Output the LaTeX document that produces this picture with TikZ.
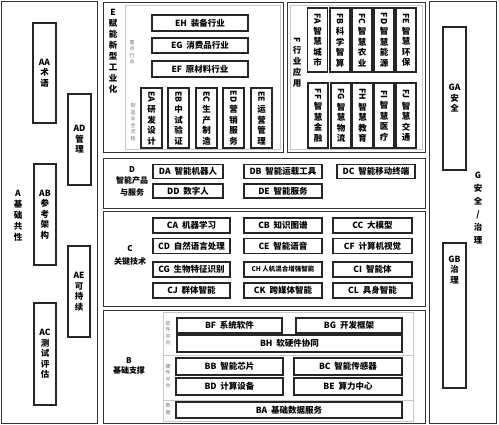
\documentclass[tikz,border=0pt]{standalone}
\usepackage{fontspec}
\newfontfamily\cjkfont{Noto Sans CJK SC}
\usepackage{tikz}
\usetikzlibrary{calc}

\begin{document}
\begin{tikzpicture}[x=1pt, y=-1pt,
        frame_style/.style={rectangle,draw=black!80,line width=0.9pt,inner sep=0pt},
        zone_style/.style={rectangle,draw=black!22,line width=0.5pt,inner sep=0pt},
        box_style/.style={rectangle,draw=black!85,line width=1.2pt,fill=white,inner sep=0pt,font=\cjkfont\bfseries\fontsize{8.5}{9}\selectfont},
        vbox_style/.style={box_style,align=center,font=\cjkfont\bfseries\fontsize{8.5}{10.5}\selectfont},
        title_style/.style={align=center,inner sep=0pt,font=\cjkfont\bfseries\fontsize{8.5}{11}\selectfont},
        tag_style/.style={align=center,inner sep=0pt,text=black!55,font=\cjkfont\fontsize{5}{6.5}\selectfont}]

        \useasboundingbox (0,0) rectangle (499,424);

        % frames
        \node [frame_style,minimum width=96pt,minimum height=422pt] (nA) at (49,212) {};
        \node [frame_style,minimum width=180pt,minimum height=150pt] (nE) at (193,77) {};
        \node [frame_style,minimum width=138pt,minimum height=150pt] (nF) at (356,77) {};
        \node [frame_style,minimum width=322pt,minimum height=50pt] (nD) at (264,183) {};
        \node [frame_style,minimum width=322pt,minimum height=95pt] (nC) at (264,258.5) {};
        \node [frame_style,minimum width=322pt,minimum height=113pt] (nB) at (264,366.5) {};
        \node [frame_style,minimum width=67pt,minimum height=422pt] (nG) at (462.5,212) {};

        \node [zone_style,minimum width=155pt,minimum height=144pt] (zE) at (202.5,77) {};
        \node [zone_style,minimum width=132pt,minimum height=144pt] (zF) at (356,77) {};
        \node [zone_style,minimum width=250pt,minimum height=43pt] (zB1) at (288,333.5) {};
        \node [zone_style,minimum width=250pt,minimum height=45pt] (zB2) at (288,377.5) {};
        \node [zone_style,minimum width=250pt,minimum height=21pt] (zB3) at (288,410.5) {};

        % titles
        \node [title_style] (tA) at (18,216) {A\\基\\础\\共\\性};
        \node [title_style] (tE) at (113,51) {E\\赋\\能\\新\\型\\工\\业\\化};
        \node [title_style] (tF) at (297,62) {\raisebox{\depth}{\rotatebox{-90}{F}}\\行\\业\\应\\用};
        \node [title_style,font=\cjkfont\bfseries\fontsize{8.5}{13}\selectfont] (tG) at (478,208) {G\\安\\全\\/\\治\\理};
        \node [title_style,font=\cjkfont\bfseries\fontsize{8}{11.5}\selectfont] (tD) at (132,181) {D\\智能产品\\与服务};
        \node [title_style,font=\cjkfont\bfseries\fontsize{8}{13}\selectfont] (tC) at (130,255) {C\\关键技术};
        \node [title_style,font=\cjkfont\bfseries\fontsize{8}{10}\selectfont] (tB) at (129,366) {B\\基础支撑};

        \node [tag_style] (gE1) at (132,52) {重\\点\\行\\业};
        \node [tag_style] (gE2) at (133,122) {制\\造\\业\\全\\流\\程};
        \node [tag_style] (gB1) at (168,333) {软\\件\\平\\台};
        \node [tag_style] (gB2) at (168,376) {硬\\件\\平\\台};
        \node [tag_style] (gB3) at (168,409) {数\\据};

        % A
        \node [vbox_style,minimum width=23pt,minimum height=100pt] (nAA) at (44.5,73) {AA\\术\\语};
        \node [vbox_style,minimum width=23pt,minimum height=91pt] (nAD) at (79.5,139.5) {AD\\管\\理};
        \node [vbox_style,minimum width=22pt,minimum height=101pt] (nAB) at (45,214.5) {AB\\参\\考\\架\\构};
        \node [vbox_style,minimum width=22pt,minimum height=91pt] (nAE) at (79,291.5) {AE\\可\\持\\续};
        \node [vbox_style,minimum width=22pt,minimum height=102pt] (nAC) at (45,354) {AC\\测\\试\\评\\估};

        % E
        \node [box_style,minimum width=96pt,minimum height=16pt] (nEH) at (200,23) {EH\ \ 装备行业};
        \node [box_style,minimum width=96pt,minimum height=15pt] (nEG) at (200,45.5) {EG\ \ 消费品行业};
        \node [box_style,minimum width=96pt,minimum height=16pt] (nEF) at (200,69) {EF\ \ 原材料行业};
        \node [vbox_style,minimum width=21pt,minimum height=60pt] (nEA) at (151.5,118) {\raisebox{\depth}{\rotatebox{-90}{EA}}\\研\\发\\设\\计};
        \node [vbox_style,minimum width=21pt,minimum height=60pt] (nEB) at (178.5,118) {\raisebox{\depth}{\rotatebox{-90}{EB}}\\中\\试\\验\\证};
        \node [vbox_style,minimum width=21pt,minimum height=60pt] (nEC) at (206.5,118) {\raisebox{\depth}{\rotatebox{-90}{EC}}\\生\\产\\制\\造};
        \node [vbox_style,minimum width=21pt,minimum height=60pt] (nED) at (233.5,118) {\raisebox{\depth}{\rotatebox{-90}{ED}}\\营\\销\\服\\务};
        \node [vbox_style,minimum width=21pt,minimum height=60pt] (nEE) at (261.5,118) {\raisebox{\depth}{\rotatebox{-90}{EE}}\\运\\营\\管\\理};

        % F
        \node [vbox_style,minimum width=20pt,minimum height=64pt] (nFA) at (317.5,40) {\raisebox{\depth}{\rotatebox{-90}{FA}}\\智\\慧\\城\\市};
        \node [vbox_style,minimum width=20pt,minimum height=64pt] (nFB) at (340,40) {\raisebox{\depth}{\rotatebox{-90}{FB}}\\科\\学\\智\\算};
        \node [vbox_style,minimum width=20pt,minimum height=64pt] (nFC) at (362,40) {\raisebox{\depth}{\rotatebox{-90}{FC}}\\智\\慧\\农\\业};
        \node [vbox_style,minimum width=20pt,minimum height=64pt] (nFD) at (384,40) {\raisebox{\depth}{\rotatebox{-90}{FD}}\\智\\慧\\能\\源};
        \node [vbox_style,minimum width=20pt,minimum height=64pt] (nFE) at (406,40) {\raisebox{\depth}{\rotatebox{-90}{FE}}\\智\\慧\\环\\保};
        \node [vbox_style,minimum width=20pt,minimum height=65pt] (nFF) at (318,115.5) {\raisebox{\depth}{\rotatebox{-90}{FF}}\\智\\慧\\金\\融};
        \node [vbox_style,minimum width=20pt,minimum height=65pt] (nFG) at (341,115.5) {\raisebox{\depth}{\rotatebox{-90}{FG}}\\智\\慧\\物\\流};
        \node [vbox_style,minimum width=20pt,minimum height=65pt] (nFH) at (362.5,115.5) {\raisebox{\depth}{\rotatebox{-90}{FH}}\\智\\慧\\教\\育};
        \node [vbox_style,minimum width=20pt,minimum height=65pt] (nFI) at (384,115.5) {\raisebox{\depth}{\rotatebox{-90}{FI}}\\智\\慧\\医\\疗};
        \node [vbox_style,minimum width=20pt,minimum height=65pt] (nFJ) at (406,115.5) {\raisebox{\depth}{\rotatebox{-90}{FJ}}\\智\\慧\\交\\通};

        % D
        \node [box_style,minimum width=70pt,minimum height=14pt] (nDA) at (188,171.5) {DA\ \ 智能机器人};
        \node [box_style,minimum width=78pt,minimum height=14pt] (nDB) at (283,171.5) {DB\ \ 智能运载工具};
        \node [box_style,minimum width=78pt,minimum height=14pt] (nDC) at (376,171.5) {DC\ \ 智能移动终端};
        \node [box_style,minimum width=70pt,minimum height=14pt] (nDD) at (188,191) {DD\ \ 数字人};
        \node [box_style,minimum width=78pt,minimum height=14pt] (nDE) at (283,191) {DE\ \ 智能服务};

        % C
        \node [box_style,minimum width=77pt,minimum height=15pt] (nCA) at (191.5,225.5) {CA\ \ 机器学习};
        \node [box_style,minimum width=78pt,minimum height=15pt] (nCB) at (283,225.5) {CB\ \ 知识图谱};
        \node [box_style,minimum width=79pt,minimum height=15pt] (nCC) at (372.5,225.5) {CC\ \ 大模型};
        \node [box_style,minimum width=77pt,minimum height=15pt] (nCD) at (191.5,246) {CD\ \ 自然语言处理};
        \node [box_style,minimum width=78pt,minimum height=15pt] (nCE) at (283,246) {CE\ \ 智能语音};
        \node [box_style,minimum width=79pt,minimum height=15pt] (nCF) at (372.5,246) {CF\ \ 计算机视觉};
        \node [box_style,minimum width=77pt,minimum height=15pt] (nCG) at (191.5,269.5) {CG\ \ 生物特征识别};
        \node [box_style,minimum width=78pt,minimum height=15pt,font=\cjkfont\bfseries\fontsize{6.5}{7}\selectfont] (nCH) at (283,269.5) {CH\ 人机混合增强智能};
        \node [box_style,minimum width=79pt,minimum height=15pt] (nCI) at (372.5,269.5) {CI\ \ 智能体};
        \node [box_style,minimum width=77pt,minimum height=15pt] (nCJ) at (191.5,290.5) {CJ\ \ 群体智能};
        \node [box_style,minimum width=78pt,minimum height=15pt] (nCK) at (283,290.5) {CK\ \ 跨媒体智能};
        \node [box_style,minimum width=79pt,minimum height=15pt] (nCL) at (372.5,290.5) {CL\ \ 具身智能};

        % B
        \node [box_style,minimum width=105pt,minimum height=15pt] (nBF) at (229.5,325.5) {BF\ \ 系统软件};
        \node [box_style,minimum width=106pt,minimum height=15pt] (nBG) at (349,325.5) {BG\ \ 开发框架};
        \node [box_style,minimum width=225pt,minimum height=17pt] (nBH) at (289.5,343.5) {BH\ \ 软硬件协同};
        \node [box_style,minimum width=107pt,minimum height=17pt] (nBB) at (229.5,366.5) {BB\ \ 智能芯片};
        \node [box_style,minimum width=108pt,minimum height=17pt] (nBC) at (348,366.5) {BC\ \ 智能传感器};
        \node [box_style,minimum width=107pt,minimum height=17pt] (nBD) at (229.5,386.5) {BD\ \ 计算设备};
        \node [box_style,minimum width=108pt,minimum height=17pt] (nBE) at (348,386.5) {BE\ \ 算力中心};
        \node [box_style,minimum width=226pt,minimum height=16pt] (nBA) at (289,410) {BA\ \ 基础数据服务};

        % G
        \node [box_style,minimum width=23pt,minimum height=143pt] (nGA) at (454.5,98.5) {};
        \node [title_style,font=\cjkfont\bfseries\fontsize{8.5}{10.5}\selectfont] (tGA) at (454.5,98.5) {GA\\安\\全};
        \node [box_style,minimum width=23pt,minimum height=145pt] (nGB) at (454.5,315.5) {};
        \node [title_style,font=\cjkfont\bfseries\fontsize{8.5}{10.5}\selectfont] (tGB) at (454.5,270) {GB\\治\\理};

\end{tikzpicture}
\end{document}
